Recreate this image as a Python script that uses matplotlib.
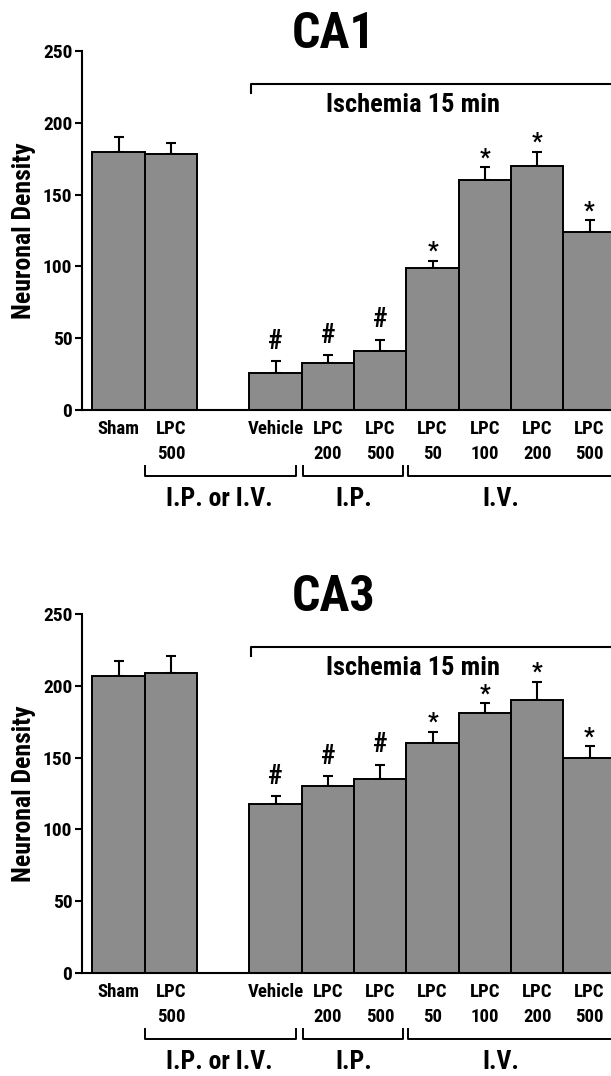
import numpy as np
import matplotlib
matplotlib.use('Agg')
import matplotlib.pyplot as plt
from matplotlib import font_manager

# pick a narrow bold sans if one is around
installed = set(f.name for f in font_manager.fontManager.ttflist)
candidates = ['Roboto Condensed', 'Archivo Narrow', 'PT Sans Narrow', 'Liberation Sans Narrow',
              'Open Sans Condensed', 'DejaVu Sans Condensed']
family = [c for c in candidates if c in installed][:1] + ['DejaVu Sans']
plt.rcParams['font.family'] = family
plt.rcParams['font.weight'] = 'bold'

groups = ['Sham', 'LPC\n500', 'Vehicle', 'LPC\n200', 'LPC\n500', 'LPC\n50', 'LPC\n100', 'LPC\n200', 'LPC\n500']
slots = [0, 1, 3, 4, 5, 6, 7, 8, 9]
ca1_mean = [180, 178, 26, 33, 41, 99, 160, 170, 124]
ca1_sem = [10, 8, 8, 5, 8, 5, 9, 10, 8]
ca3_mean = [207, 209, 118, 130, 135, 160, 181, 190, 150]
ca3_sem = [10, 12, 5, 7, 10, 8, 7, 13, 8]
marks = ['', '', '#', '#', '#', '*', '*', '*', '*']
routes = ['I.P. or I.V.', 'I.P.', 'I.V.']
route_spans = [(0.5, 3.39), (3.52, 5.44), (5.53, 9.6)]
route_centers = [1.92, 4.5, 7.31]

def draw_panel(ax, title, means, sems):
    ax.bar(slots, means, width=1.0, color='#8c8c8c', edgecolor='black', linewidth=1.4, zorder=2)
    ax.errorbar(slots, means, yerr=[np.zeros(len(sems)), sems], fmt='none', ecolor='black',
                elinewidth=1.5, capsize=3.3, capthick=1.5, zorder=1)
    for x, m, s, mk in zip(slots, means, sems, marks):
        if mk == '#':
            ax.text(x, m + s + 4.5, mk, ha='center', va='bottom', fontsize=20, fontweight='bold')
        elif mk == '*':
            ax.text(x, m + s - 1.5, mk, ha='center', va='bottom', fontsize=17, fontweight='bold')

    ax.set_xlim(-0.70, 9.41)
    ax.set_ylim(0, 250)
    ax.set_yticks([0, 50, 100, 150, 200, 250])
    ax.tick_params(axis='y', labelsize=14, length=5, width=1.5, pad=2)
    ax.set_xticks(slots)
    ax.set_xticklabels(groups, fontsize=13.5, fontweight='bold', va='top', linespacing=1.5)
    ax.tick_params(axis='x', length=0, pad=7)
    ax.spines['top'].set_visible(False)
    ax.spines['right'].set_visible(False)
    ax.spines['left'].set_linewidth(1.5)
    ax.spines['bottom'].set_linewidth(1.5)
    ax.set_ylabel('Neuronal Density', fontsize=18.5, fontweight='bold', labelpad=5)

    ax.text(4.1, 252, title, ha='center', va='baseline', fontsize=36, fontweight='bold', clip_on=False)

    # ischemia bracket
    ax.plot([2.53, 2.53, 9.6], [221, 227, 227], color='black', lw=1.5, clip_on=False)
    ax.text(5.63, 207.5, 'Ischemia 15 min', ha='center', va='baseline', fontsize=19, fontweight='bold')

    # route brackets under the axis
    for (x0, x1), name, xc in zip(route_spans, routes, route_centers):
        ax.plot([x0, x0, x1, x1], [-39, -46, -46, -39], color='black', lw=1.4, clip_on=False)
        ax.text(xc, -67, name, ha='center', va='baseline', fontsize=18.5, fontweight='bold')

fig = plt.figure(figsize=(6.11, 10.76), dpi=100)
ax1 = fig.add_axes([0.1342, 0.6190, 0.8658, 0.3336])
ax2 = fig.add_axes([0.1342, 0.0957, 0.8658, 0.3336])
draw_panel(ax1, 'CA1', ca1_mean, ca1_sem)
draw_panel(ax2, 'CA3', ca3_mean, ca3_sem)

fig.savefig('out.png', dpi=100)
